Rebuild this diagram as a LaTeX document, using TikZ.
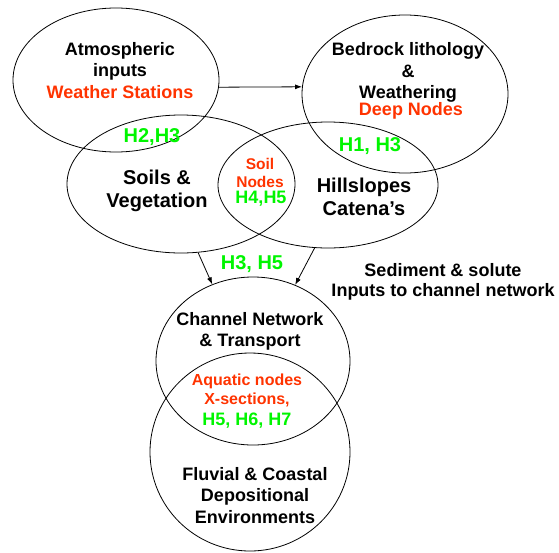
\documentclass[tikz,border=0pt]{standalone}
\usepackage{fontspec}
\setmainfont{Liberation Sans}
\usetikzlibrary{shapes.geometric,arrows.meta}
\definecolor{nodered}{RGB}{255,51,0}
\definecolor{hgreen}{RGB}{0,245,0}
\begin{document}
\begin{tikzpicture}[x=1pt,y=-1pt,
  zone/.style={draw,ellipse,line width=0.8pt,inner sep=0pt},
  lbl/.style={align=center,inner sep=0pt,font=\bfseries\fontsize{18}{21.5}\selectfont},
  biglbl/.style={align=center,inner sep=0pt,font=\bfseries\fontsize{20}{23}\selectfont},
  hyp/.style={inner sep=0pt,text=hgreen,font=\bfseries\fontsize{20}{23}\selectfont},
  hypsm/.style={inner sep=0pt,text=hgreen,font=\bfseries\fontsize{18}{21}\selectfont},
  redl/.style={align=center,inner sep=0pt,text=nodered},
  flow/.style={line width=0.8pt,-{Latex[length=7pt,width=5pt]}}]
\useasboundingbox (0,0) rectangle (559,552);
% zones
\node[zone,minimum width=206pt,minimum height=144pt] (atm) at (116,80) {};
\node[zone,minimum width=206pt,minimum height=158pt] (bed) at (405,94) {};
\node[zone,minimum width=228pt,minimum height=138pt] (soil) at (181,184) {};
\node[zone,minimum width=220pt,minimum height=126pt] (hill) at (328,185) {};
\node[zone,minimum width=194pt,minimum height=168pt] (chan) at (253,361) {};
\node[zone,minimum width=200pt,minimum height=198pt] (fluv) at (250,452) {};
% connectors
\draw[flow] (atm.-4.5) -- (bed.176.7);
\draw[flow] (soil.-76.2) -- (chan.118.3);
\draw[flow] (hill.258.2) -- (chan.61.1);
% texts
\node[lbl] (tatm) at (120,70.5) {Atmospheric\\inputs\\\textcolor{nodered}{Weather Stations}};
\node[lbl] (tbed) at (408,72.5) {Bedrock lithology\\\&\\Weathering};
\node[lbl,text=nodered] (tdeep) at (411,111) {Deep Nodes};
\node[hyp] (h13) at (370,146) {H1, H3};
\node[hyp] (h23) at (152,137) {H2,H3};
\node[biglbl] (tsoil) at (157,190.5) {Soils \&\\Vegetation};
\node[redl,font=\bfseries\fontsize{15.5}{18}\selectfont] (tsn) at (260,173) {Soil\\Nodes};
\node[hypsm] (h45) at (261,199) {H4,H5};
\node[biglbl] (thill) at (364,196.5) {Hillslopes\\Catena’s};
\node[hyp] (h35) at (252,264) {H3, H5};
\node[lbl,font=\bfseries\fontsize{18}{20}\selectfont] (tsed) at (443,282) {Sediment \& solute\\Inputs to channel network};
\node[lbl] (tchan) at (250,331.5) {Channel Network\\\& Transport};
\node[redl,font=\bfseries\fontsize{16}{19}\selectfont] (taq) at (247,390) {Aquatic nodes\\X-sections,};
\node[hypsm] (h567) at (247,421) {H5, H6, H7};
\node[lbl] (tfluv) at (255,495.5) {Fluvial \& Coastal\\Depositional\\Environments};
\end{tikzpicture}
\end{document}
